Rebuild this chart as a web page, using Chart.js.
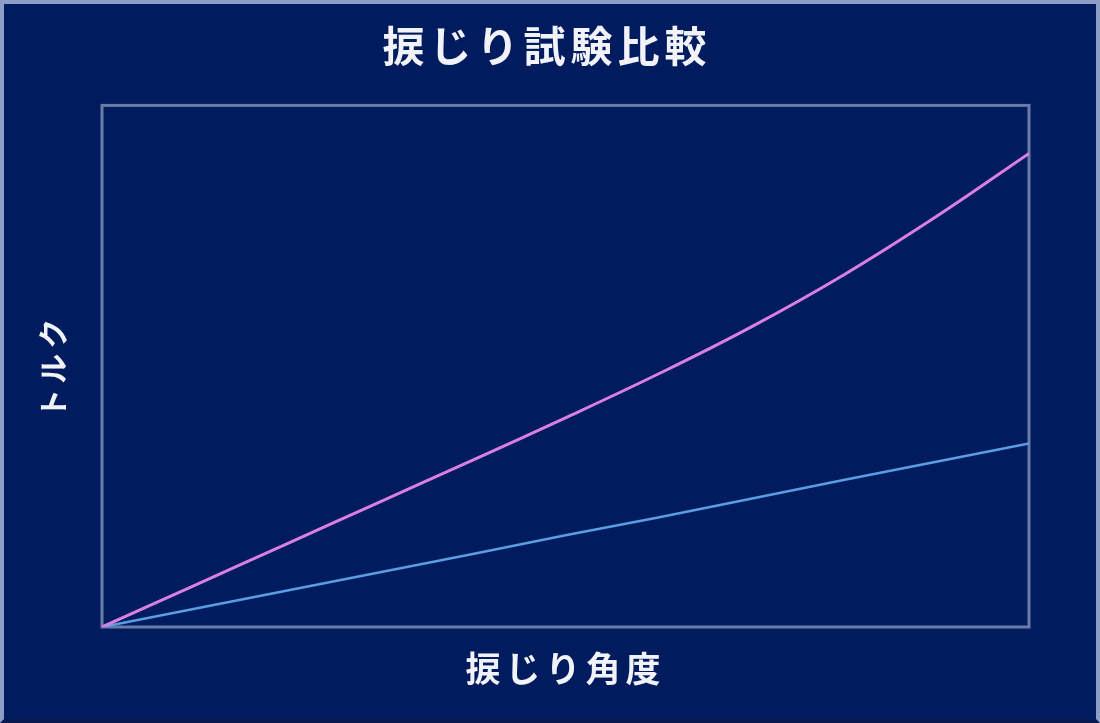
<!DOCTYPE html>
<html lang="ja">
<head>
<meta charset="utf-8">
<title>捩じり試験比較</title>
<script src="https://cdn.jsdelivr.net/npm/chart.js@4/dist/chart.umd.min.js"></script>
<style>
    html, body { margin: 0; padding: 0; background: #011c5e; }
    #wrap { position: relative; width: 1100px; height: 723px; }
    #frame {
        position: absolute; left: 0; top: 0; right: 0; bottom: 0;
        border: 4px solid #8c9dc8; border-bottom-color: #0a1850;
        pointer-events: none; box-sizing: border-box;
    }
</style>
</head>
<body>
<div id="wrap">
    <canvas id="torsionChart" width="1100" height="723"></canvas>
    <div id="frame"></div>
</div>
<script>
// Data (x: twist angle, y: torque, both as % of the plot range)
const angles = [0, 10, 20, 30, 40, 50, 60, 70, 80, 90, 100];
const torqueA = [0, 8, 16, 24, 32, 40.1, 48.5, 57.5, 67.5, 78.7, 90.8];   // magenta
const torqueB = [0, 3.5, 7, 10.5, 14, 17.6, 21, 24.6, 28.2, 31.7, 35.2];   // blue

const titleText = '捩じり試験比較';
const xTitle = '捩じり角度';
const yTitle = 'トルク';

const textColor = '#f2f3f8';
const fontFamily = "'Noto Sans CJK JP', 'Noto Sans', sans-serif";

// wider letter spacing for the titles, plus the frame round the plot
const plotFrame = {
    id: 'plotFrame',
    beforeDraw(chart) {
        chart.ctx.letterSpacing = '5px';
    },
    beforeDatasetsDraw(chart) {
        const { ctx, chartArea } = chart;
        ctx.letterSpacing = '0px';
        ctx.save();
        ctx.strokeStyle = '#6b7ba8';
        ctx.lineWidth = 3;
        ctx.strokeRect(chartArea.left, chartArea.top, chartArea.right - chartArea.left, chartArea.bottom - chartArea.top);
        ctx.restore();
    }
};

const ctx = document.getElementById('torsionChart').getContext('2d');

new Chart(ctx, {
    type: 'line',
    data: {
        datasets: [
            {
                label: 'A',
                data: angles.map((a, i) => ({ x: a, y: torqueA[i] })),
                borderColor: '#d97fe2',
                borderWidth: 3,
                pointRadius: 0,
                tension: 0.4
            },
            {
                label: 'B',
                data: angles.map((a, i) => ({ x: a, y: torqueB[i] })),
                borderColor: '#5c9ce2',
                borderWidth: 2.5,
                pointRadius: 0
            }
        ]
    },
    options: {
        responsive: false,
        animation: false,
        layout: {
            padding: { top: 6, left: 65, right: 71, bottom: 10 }
        },
        plugins: {
            legend: { display: false },
            tooltip: { enabled: false },
            title: {
                display: true,
                text: titleText,
                color: textColor,
                font: { family: fontFamily, size: 42, weight: 'bold', lineHeight: 1.2 },
                padding: { top: 15, bottom: 34 }
            }
        },
        scales: {
            x: {
                type: 'linear',
                min: 0,
                max: 100,
                grid: { display: false, drawTicks: false },
                border: { display: false },
                ticks: { display: false },
                title: {
                    display: true,
                    text: xTitle,
                    color: textColor,
                    font: { family: fontFamily, size: 35, weight: 'bold', lineHeight: 1.2 },
                    padding: { top: 21, bottom: 23 }
                }
            },
            y: {
                min: 0,
                max: 100,
                grid: { display: false, drawTicks: false },
                border: { display: false },
                ticks: { display: false },
                title: {
                    display: true,
                    text: yTitle,
                    color: textColor,
                    font: { family: fontFamily, size: 30, weight: 'bold', lineHeight: 1.2 },
                    padding: { top: -30, bottom: 31 }
                }
            }
        }
    },
    plugins: [plotFrame]
});
</script>
</body>
</html>
